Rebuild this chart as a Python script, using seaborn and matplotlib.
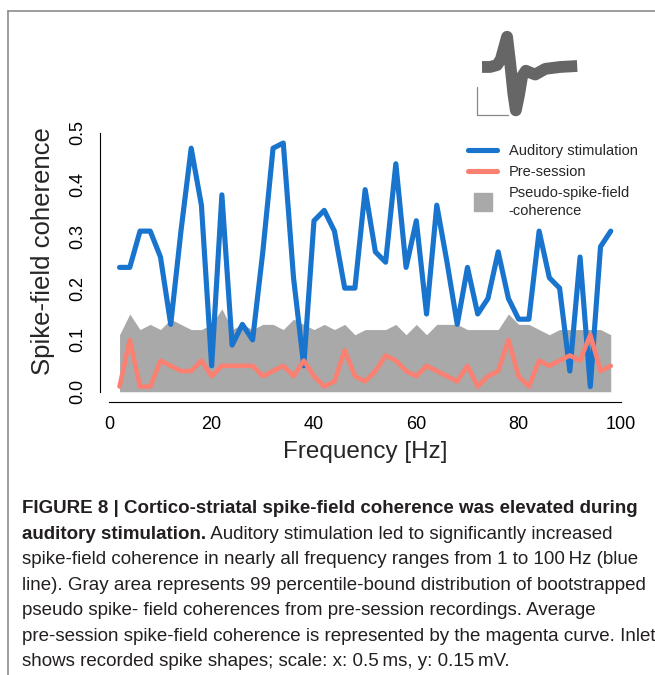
import matplotlib
matplotlib.use('Agg')
import matplotlib.pyplot as plt
from matplotlib import font_manager
from matplotlib.lines import Line2D
import pandas as pd
import seaborn as sns

# spike-field coherence (Hz steps of 2)
freq = [2, 4, 6, 8, 10, 12, 14, 16, 18, 20, 22, 24, 26, 28, 30, 32, 34, 36, 38, 40,
        42, 44, 46, 48, 50, 52, 54, 56, 58, 60, 62, 64, 66, 68, 70, 72, 74, 76, 78, 80,
        82, 84, 86, 88, 90, 92, 94, 96, 98]
auditory = [0.24, 0.24, 0.31, 0.31, 0.26, 0.13, 0.31, 0.47, 0.36, 0.05, 0.38, 0.09, 0.13,
            0.10, 0.27, 0.47, 0.48, 0.22, 0.05, 0.33, 0.35, 0.31, 0.20, 0.20, 0.39, 0.27,
            0.25, 0.44, 0.24, 0.33, 0.15, 0.36, 0.25, 0.13, 0.24, 0.15, 0.18, 0.27, 0.18,
            0.14, 0.14, 0.31, 0.22, 0.20, 0.04, 0.26, 0.01, 0.28, 0.31]
pre_session = [0.01, 0.10, 0.01, 0.01, 0.06, 0.05, 0.04, 0.04, 0.06, 0.03, 0.05, 0.05, 0.05,
               0.05, 0.03, 0.04, 0.05, 0.03, 0.06, 0.03, 0.01, 0.02, 0.08, 0.03, 0.02, 0.04,
               0.07, 0.06, 0.04, 0.03, 0.05, 0.04, 0.03, 0.02, 0.05, 0.01, 0.03, 0.04, 0.10,
               0.03, 0.01, 0.06, 0.05, 0.06, 0.07, 0.06, 0.11, 0.04, 0.05]
pseudo_upper = [0.11, 0.15, 0.12, 0.13, 0.12, 0.14, 0.13, 0.12, 0.12, 0.13, 0.16, 0.12, 0.13,
                0.12, 0.13, 0.13, 0.12, 0.14, 0.13, 0.12, 0.13, 0.12, 0.13, 0.11, 0.12, 0.12,
                0.12, 0.13, 0.11, 0.13, 0.11, 0.13, 0.13, 0.13, 0.12, 0.12, 0.12, 0.12, 0.15,
                0.13, 0.13, 0.12, 0.11, 0.12, 0.12, 0.12, 0.12, 0.12, 0.11]

x_ticks = [0, 20, 40, 60, 80, 100]
y_ticks = [0.0, 0.1, 0.2, 0.3, 0.4, 0.5]
legend_labels = ['Auditory stimulation', 'Pre-session', 'Pseudo-spike-field\n-coherence']

# inset: average spike shape (ms, mV)
spike_t = [0.00, 0.13, 0.24, 0.30, 0.35, 0.40, 0.45, 0.50, 0.54, 0.59, 0.64, 0.70, 0.77,
           0.85, 1.01, 1.25, 1.52]
spike_v = [0.00, 0.00, 0.01, 0.04, 0.10, 0.16, 0.02, -0.14, -0.23, -0.15, -0.05, -0.02,
           -0.03, -0.04, -0.01, 0.00, 0.005]

caption_bold_1 = 'FIGURE 8 | Cortico-striatal spike-field coherence was elevated during'
caption_bold_2 = 'auditory stimulation.'
caption_rest_2 = ' Auditory stimulation led to significantly increased'
caption_lines = [
    'spike-field coherence in nearly all frequency ranges from 1 to 100\u2009Hz (blue',
    'line). Gray area represents 99 percentile-bound distribution of bootstrapped',
    'pseudo spike- field coherences from pre-session recordings. Average',
    'pre-session spike-field coherence is represented by the magenta curve. Inlet',
    'shows recorded spike shapes; scale: x: 0.5\u2009ms, y: 0.15\u2009mV.',
]

BLUE = '#1874CD'
PINK = '#FA8072'
GRAY = '#A9A9A9'
W, H = 655, 675


def fx(px):
    return px / W


def fy(py):
    return 1 - py / H


def pick_font(names):
    for n in names:
        try:
            font_manager.findfont(n, fallback_to_default=False)
            return n
        except ValueError:
            continue
    return 'DejaVu Sans'


sns.set_style('white')
plt.rcParams['font.family'] = ['Liberation Sans', 'DejaVu Sans']
cap_font = pick_font(['Liberation Sans Narrow', 'Liberation Sans'])

df = pd.DataFrame({'freq': freq, 'auditory': auditory, 'pre': pre_session,
                   'pseudo': pseudo_upper})

fig = plt.figure(figsize=(W / 100, H / 100), dpi=100)
ax = fig.add_axes([fx(99.9), fy(402.1), 530.5 / W, 279.8 / H])

ax.fill_between(df['freq'], 0, df['pseudo'], color=GRAY, lw=0, zorder=1)
sns.lineplot(data=df, x='freq', y='auditory', ax=ax, color=BLUE, lw=3.7,
             solid_capstyle='round', solid_joinstyle='round', zorder=3)
sns.lineplot(data=df, x='freq', y='pre', ax=ax, color=PINK, lw=3.3,
             solid_capstyle='round', solid_joinstyle='round', zorder=4)

ax.set_xlim(-1.84, 101.84)
ax.set_ylim(-0.02, 0.52)
for side in ['top', 'right']:
    ax.spines[side].set_visible(False)
ax.spines['left'].set_bounds(0, 0.5)
ax.spines['bottom'].set_bounds(0, 100)
for side in ['left', 'bottom']:
    ax.spines[side].set_linewidth(0.8)
    ax.spines[side].set_color('black')

ax.set_xticks(x_ticks)
ax.set_xticklabels([str(t) for t in x_ticks])
ax.set_yticks(y_ticks)
ax.set_yticklabels([f'{t:.1f}' for t in y_ticks], rotation=90, va='center')
ax.tick_params(direction='in', length=2.5, width=0.8, labelsize=13, colors='black')
ax.tick_params(axis='x', pad=10)
ax.tick_params(axis='y', pad=10)

ax.set_xlabel('Frequency [Hz]', fontsize=17.5)
ax.set_ylabel('Spike-field coherence', fontsize=18.5)
ax.xaxis.label.set_va('center')
ax.yaxis.label.set_va('center')
ax.xaxis.set_label_coords(0.5, (402.1 - 452) / 279.8)
ax.yaxis.set_label_coords((43 - 99.9) / 530.5, (402.1 - 251) / 279.8)

handles = [Line2D([], [], color=BLUE, lw=3.7),
           Line2D([], [], color=PINK, lw=3.7),
           Line2D([], [], marker='s', ls='none', color=GRAY, markersize=13)]
leg = fig.legend(handles, legend_labels, loc='upper left',
                 bbox_to_anchor=(fx(468), fy(144)), frameon=False, fontsize=10.5,
                 handlelength=2.0, handletextpad=0.8, labelspacing=0.48,
                 borderpad=0, borderaxespad=0)
for txt in leg.get_texts():
    txt.set_linespacing(1.35)

# spike inset with scale bar
ax_in = fig.add_axes([fx(469.5), fy(123.6), 112.7 / W, 94.4 / H])
ax_in.plot(spike_t, spike_v, color='#666666', lw=8.5, solid_capstyle='butt',
           solid_joinstyle='round')
ax_in.plot([-0.085, -0.085, 0.415], [-0.104, -0.254, -0.254], color='#888888', lw=0.9)
ax_in.set_xlim(-0.2, 1.6)
ax_in.set_ylim(-0.3, 0.2)
ax_in.axis('off')

# page frame lines
fig.add_artist(Line2D([fx(8), fx(8)], [fy(11), 0], color='#8c8c8c', lw=1.2))
fig.add_artist(Line2D([fx(8), 1], [fy(11), fy(11)], color='#8c8c8c', lw=1.2))

# caption
renderer = fig.canvas.get_renderer()
cap_color = '#231f20'
t1 = fig.text(fx(22), fy(513.3), caption_bold_1, fontsize=13, weight='bold',
              family=[cap_font, 'DejaVu Sans'], color=cap_color, va='baseline')
size = 13 * 616 / t1.get_window_extent(renderer).width
t1.set_fontsize(size)

t2 = fig.text(fx(22), fy(538.8), caption_bold_2, fontsize=size, weight='bold',
              family=[cap_font, 'DejaVu Sans'], color=cap_color, va='baseline')
w2 = t2.get_window_extent(renderer).width
fig.text(fx(22 + w2), fy(538.8), caption_rest_2, fontsize=size,
         family=[cap_font, 'DejaVu Sans'], color=cap_color, va='baseline')
for i, line in enumerate(caption_lines):
    fig.text(fx(22), fy(564.3 + 25.5 * i), line, fontsize=size,
             family=[cap_font, 'DejaVu Sans'], color=cap_color, va='baseline')

fig.savefig('out.png', dpi=100)
